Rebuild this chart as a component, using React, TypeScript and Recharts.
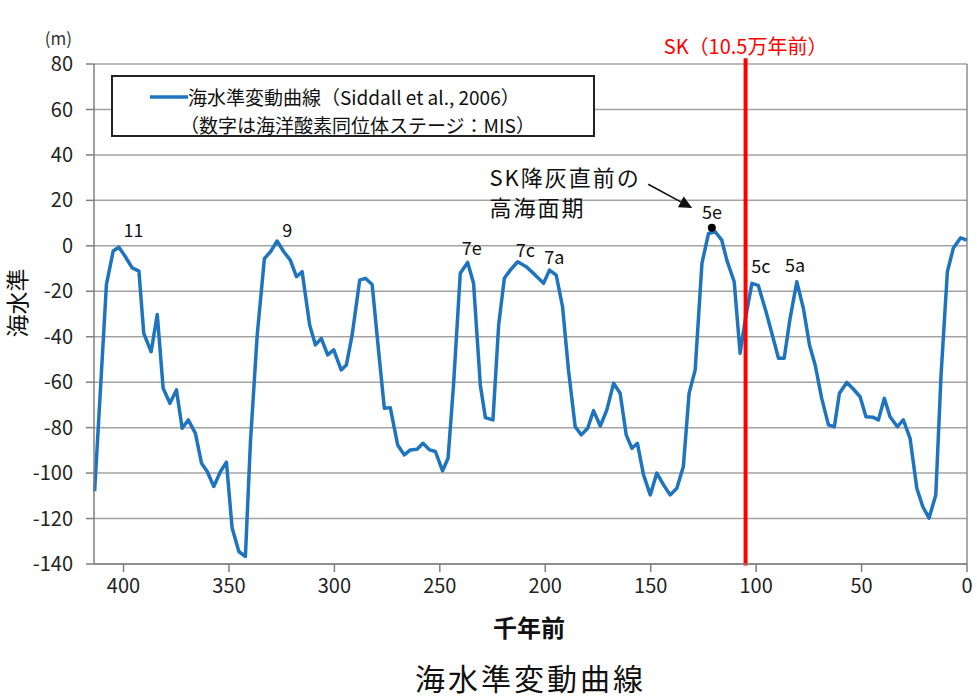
import {
  CartesianGrid,
  Legend,
  Line,
  LineChart,
  ReferenceDot,
  ReferenceLine,
  XAxis,
  YAxis,
} from "recharts"

const FONT = '"Noto Sans CJK JP", "Noto Sans", sans-serif'
const BLUE = "#1f74bf"

// 千年前
const kyr = [
  413.7, 408.1, 404.9, 402.2, 399.1, 395.9, 392.7, 390.4, 386.9, 384.0, 381.2, 378.0, 374.9, 372.2,
  369.3, 365.9, 363.0, 360.3, 357.2, 354.0, 351.2, 348.5, 345.3, 342.2, 339.8, 336.6, 333.2, 330.3,
  327.2, 324.0, 320.9, 318.0, 315.3, 311.7, 309.0, 306.2, 303.2, 300.3, 296.8, 294.3, 291.6, 288.0,
  285.3, 282.1, 279.0, 276.3, 273.5, 270.0, 266.8, 264.0, 260.8, 258.0, 254.8, 252.1, 248.7, 246.1,
  243.5, 240.3, 236.8, 234.0, 230.8, 228.4, 224.8, 222.1, 219.4, 216.6, 213.1, 209.0, 204.7, 200.8,
  198.0, 194.8, 191.8, 189.0, 185.8, 182.9, 179.9, 177.1, 173.9, 170.8, 167.6, 164.5, 161.6, 158.9,
  156.3, 153.4, 150.2, 147.1, 143.9, 140.8, 137.6, 134.5, 131.8, 128.9, 125.7, 122.6, 119.4, 116.3,
  113.9, 110.4, 107.6, 105.2, 102.0, 99.0, 95.3, 92.1, 89.4, 86.7, 83.9, 80.7, 77.6, 74.7, 72.0, 68.9,
  65.7, 62.9, 60.5, 57.0, 53.9, 50.7, 47.9, 44.7, 42.0, 39.2, 36.5, 33.0, 30.2, 27.0, 23.8, 21.0, 18.0,
  14.8, 12.3, 9.3, 6.5, 3.0, 0.1,
]

// 海水準 (m)
const seaLevel = [
  -108, -17, -2.3, -0.6, -4.8, -9.7, -11.1, -38.5, -46.6, -30.2, -62.7, -69.3, -63.4, -80.3,
  -76.6, -82.5, -95.7, -99.3, -105.9, -99.3, -95.2, -124.2, -134.5, -136.7, -86.1, -39.2, -5.6, -2.6,
  2.1, -2.6, -6.3, -13.6, -11.4, -34.9, -43.6, -40.7, -48.0, -45.8, -54.6, -52.4, -39.3, -15.1,
  -14.3, -17.0, -46.6, -71.5, -71.2, -87.6, -92.0, -89.8, -89.5, -86.9, -89.8, -90.5, -99.0, -93.5,
  -61.2, -12.1, -7.3, -16.5, -61.2, -75.6, -76.6, -34.9, -14.3, -10.7, -7.0, -9.2, -12.9, -16.5,
  -10.7, -12.9, -26.8, -54.6, -79.6, -83.2, -80.3, -72.5, -79.3, -72.2, -60.5, -64.9, -83.2, -89.1,
  -86.9, -100.8, -109.6, -100.0, -105.2, -109.6, -106.7, -97.1, -64.9, -54.6, -7.7, 5.4, 6.2, 2.5,
  -6.3, -15.8, -47.3, -32.7, -16.5, -17.4, -29.0, -40.0, -49.5, -49.5, -31.9, -15.8, -27.5, -43.6, -52.4, -67.1,
  -78.8, -79.6, -64.9, -60.1, -63.0, -66.4, -75.2, -75.4, -76.6, -67.1, -75.2, -79.6, -76.6, -84.7, -106.7, -114.7, -119.8,
  -109.6, -56.8, -11.4, -1.1, 3.5, 2.5,
]

const xTicks = [0, 50, 100, 150, 200, 250, 300, 350, 400]
const yTicks = [-140, -120, -100, -80, -60, -40, -20, 0, 20, 40, 60, 80]

// 海洋酸素同位体ステージの番号と表示位置
const stageNames = ["11", "9", "7e", "7c", "7a", "5e", "5c", "5a"]
const stageKyr = [395.3, 322.4, 234.9, 209.5, 195.7, 120.9, 97.8, 81.5]
const stageLevel = [6.9, 6.9, -1.1, -1.9, -5.1, 14.4, -9.2, -8.9]

// SK降灰
const skAge = 105
const peak5e = { kyr: 121, level: 8 }

const data = kyr.map((k, i) => ({ kyr: k, level: seaLevel[i] }))

function ArrowShape(props: any) {
  const { x1, y1, x2, y2 } = props
  const dx = x2 - x1
  const dy = y2 - y1
  const len = Math.sqrt(dx * dx + dy * dy)
  const ux = dx / len
  const uy = dy / len
  const head = 13
  const half = 6
  const bx = x2 - ux * head
  const by = y2 - uy * head
  const pts = `${x2},${y2} ${bx - uy * half},${by + ux * half} ${bx + uy * half},${by - ux * half}`
  return (
    <g>
      <line x1={x1} y1={y1} x2={bx} y2={by} stroke="#111" strokeWidth={1.6} />
      <polygon points={pts} fill="#111" />
    </g>
  )
}

function LegendBox() {
  return (
    <div
      style={{
        width: 480,
        height: 58,
        border: "2px solid #222",
        background: "#fff",
        fontFamily: FONT,
        fontSize: 19,
        lineHeight: "24px",
        color: "#111",
        position: "relative",
      }}
    >
      <svg width={38} height={6} style={{ position: "absolute", left: 37, top: 17 }}>
        <line x1={0} y1={3} x2={38} y2={3} stroke={BLUE} strokeWidth={3.5} />
      </svg>
      <div style={{ position: "absolute", left: 75, top: 8, whiteSpace: "nowrap" }}>
        海水準変動曲線（Siddall et al., 2006）
      </div>
      <div style={{ position: "absolute", left: 67, top: 36, whiteSpace: "nowrap" }}>
        （数字は海洋酸素同位体ステージ：MIS）
      </div>
    </div>
  )
}

export default function App() {
  return (
    <div style={{ position: "absolute", left: 0, top: 0, width: 977, height: 699, background: "#fff", overflow: "hidden" }}>
      <LineChart width={977} height={699} data={data} margin={{ top: 64, right: 10, bottom: 0, left: 0 }}>
        <CartesianGrid vertical={false} stroke="#a3a3a3" strokeWidth={1.5} />
        <XAxis
          type="number"
          dataKey="kyr"
          domain={[0, 414]}
          reversed
          ticks={xTicks}
          interval={0}
          height={135}
          tickSize={8}
          tickMargin={7}
          axisLine={{ stroke: "#7f7f7f", strokeWidth: 1.5 }}
          tickLine={{ stroke: "#7f7f7f", strokeWidth: 1.5 }}
          tick={{ fontSize: 20, fill: "#222", fontFamily: FONT }}
          label={() => (
            <text x={529} y={626} textAnchor="middle" dominantBaseline="central" fontSize={24} fontWeight="bold" fill="#111" fontFamily={FONT}>
              千年前
            </text>
          )}
        />
        <YAxis
          type="number"
          domain={[-140, 80]}
          ticks={yTicks}
          interval={0}
          width={94}
          tickSize={8}
          tickMargin={13}
          axisLine={{ stroke: "#7f7f7f", strokeWidth: 1.5 }}
          tickLine={{ stroke: "#7f7f7f", strokeWidth: 1.5 }}
          tick={{ fontSize: 20, fill: "#222", fontFamily: FONT }}
          label={() => (
            <g>
              <g transform="translate(16 303) rotate(-90)">
                <text x={0} y={0} textAnchor="middle" dominantBaseline="central" fontSize={23} fill="#111" fontFamily={FONT}>
                  海水準
                </text>
              </g>
              <text x={72} y={37} textAnchor="end" dominantBaseline="central" fontSize={17} fill="#333" fontFamily={FONT}>
                (m)
              </text>
            </g>
          )}
        />
        {/* plot area right border */}
        <ReferenceLine x={0} stroke="#8c8c8c" strokeWidth={1.5} />
        <Legend
          verticalAlign="middle"
          align="center"
          layout="horizontal"
          wrapperStyle={{ top: 75, left: 111, width: 484, height: 62 }}
          content={() => <LegendBox />}
        />
        <Line
          type="linear"
          dataKey="level"
          stroke={BLUE}
          strokeWidth={3.5}
          strokeLinejoin="round"
          dot={false}
          activeDot={false}
          isAnimationActive={false}
        />
        <ReferenceLine
          segment={[
            { x: skAge, y: 82.5 },
            { x: skAge, y: -140.7 },
          ]}
          ifOverflow="visible"
          stroke="#ff0000"
          strokeWidth={4}
          label={{ value: "SK（10.5万年前）", position: "top", offset: 4, fill: "#ff0000", fontSize: 20, fontFamily: FONT }}
        />
        {stageNames.map((name, i) => (
          <ReferenceDot
            key={name}
            x={stageKyr[i]}
            y={stageLevel[i]}
            r={0}
            stroke="none"
            ifOverflow="visible"
            label={{ value: name, position: "center", fontSize: 18, fill: "#111", fontFamily: FONT }}
          />
        ))}
        <ReferenceDot x={peak5e.kyr} y={peak5e.level} r={4} fill="#000" stroke="none" />
        <ReferenceDot
          x={226.5}
          y={29.6}
          r={0}
          stroke="none"
          label={{ value: "SK降灰直前の", position: "right", offset: 0, fontSize: 22, letterSpacing: 2, fill: "#111", fontFamily: FONT }}
        />
        <ReferenceDot
          x={226.5}
          y={16.4}
          r={0}
          stroke="none"
          label={{ value: "高海面期", position: "right", offset: 0, fontSize: 22, letterSpacing: 2, fill: "#111", fontFamily: FONT }}
        />
        <ReferenceLine
          segment={[
            { x: 151.2, y: 27.1 },
            { x: 130.3, y: 16.6 },
          ]}
          shape={ArrowShape}
        />
      </LineChart>
      <div
        style={{
          position: "absolute",
          left: 0,
          width: 1061,
          top: 661,
          textAlign: "center",
          fontFamily: FONT,
          fontSize: 30,
          letterSpacing: 3,
          color: "#111",
          lineHeight: "32px",
        }}
      >
        海水準変動曲線
      </div>
    </div>
  )
}
